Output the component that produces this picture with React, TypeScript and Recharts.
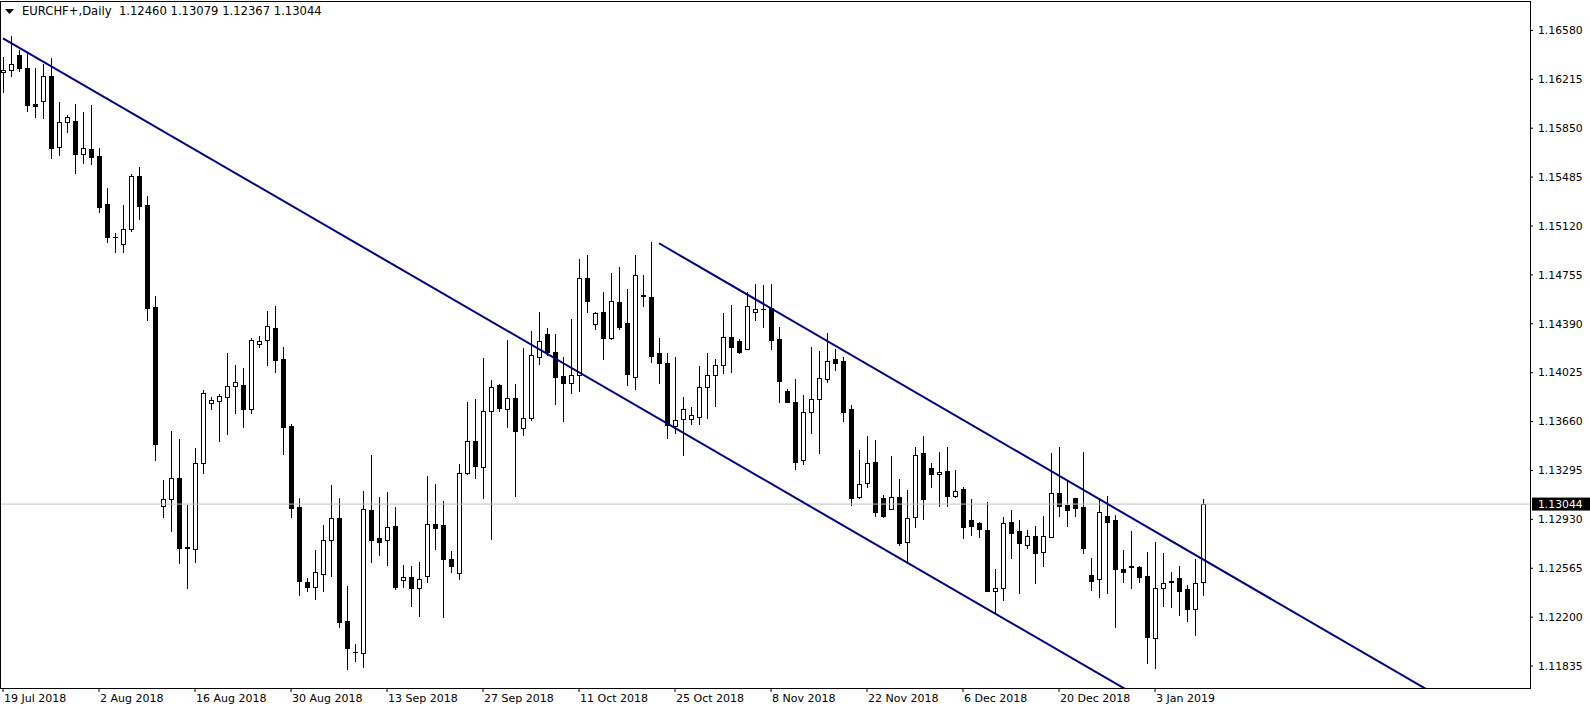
import { ComposedChart, Bar, XAxis, YAxis, ReferenceLine } from 'recharts';

// EURCHF+ daily candles, one entry per bar (6 bars per week on this feed)
const opens = [
  1.16267, 1.16282, 1.16396, 1.16302, 1.16033, 1.16051, 1.16240, 1.15712, 1.15894, 1.15904,
  1.15660, 1.15695, 1.15642, 1.15284, 1.15040, 1.14983, 1.15095, 1.15493, 1.15277, 1.14515,
  1.13027, 1.13084, 1.13236, 1.12721, 1.12706, 1.13353, 1.13796, 1.13816, 1.13846, 1.13928,
  1.13933, 1.13752, 1.14237, 1.14267, 1.14356, 1.14127, 1.13627, 1.13020, 1.12462, 1.12423,
  1.12524, 1.12774, 1.12940, 1.12169, 1.11942, 1.11930, 1.13000, 1.12791, 1.12774, 1.12880,
  1.12475, 1.12497, 1.12415, 1.12507, 1.12895, 1.12886, 1.12634, 1.12532, 1.13278, 1.13515,
  1.13323, 1.13739, 1.13933, 1.13756, 1.13834, 1.13610, 1.13684, 1.14144, 1.14311, 1.14177,
  1.14000, 1.13946, 1.14005, 1.14729, 1.14386, 1.14478, 1.14282, 1.14553, 1.14396, 1.13995,
  1.14602, 1.14592, 1.14170, 1.14095, 1.13629, 1.13677, 1.13681, 1.13696, 1.13916, 1.14005,
  1.14080, 1.14289, 1.14261, 1.14199, 1.14480, 1.14502, 1.14505, 1.14274, 1.13888, 1.13804,
  1.13371, 1.13729, 1.13826, 1.13975, 1.14125, 1.14112, 1.13754, 1.13095, 1.13199, 1.13356,
  1.13087, 1.13007, 1.13095, 1.12759, 1.12945, 1.13423, 1.13311, 1.13266, 1.13291, 1.13102,
  1.13154, 1.12925, 1.12900, 1.12850, 1.12397, 1.12415, 1.12908, 1.12843, 1.12736, 1.12806,
  1.12683, 1.12796, 1.13124, 1.13037, 1.13087, 1.13020, 1.12515, 1.12482, 1.12955, 1.12925,
  1.12557, 1.12578, 1.12574, 1.12507, 1.12046, 1.12415, 1.12468, 1.12490, 1.12408, 1.12263,
  1.12460,
];
const highs = [
  1.16384, 1.16540, 1.16434, 1.16409, 1.16302, 1.16327, 1.16372, 1.16045, 1.15948, 1.16031,
  1.15969, 1.16023, 1.15700, 1.15401, 1.15068, 1.15277, 1.15508, 1.15563, 1.15344, 1.14600,
  1.13224, 1.13590, 1.13530, 1.13037, 1.13460, 1.13896, 1.13841, 1.13866, 1.14174, 1.14082,
  1.14058, 1.14282, 1.14299, 1.14485, 1.14523, 1.14214, 1.13642, 1.13087, 1.12490, 1.12701,
  1.12888, 1.13186, 1.13089, 1.12432, 1.11999, 1.13142, 1.13410, 1.13097, 1.13134, 1.13020,
  1.12589, 1.12582, 1.12609, 1.13254, 1.13194, 1.13067, 1.12694, 1.13341, 1.13808, 1.13828,
  1.14137, 1.13970, 1.13940, 1.14269, 1.13940, 1.14207, 1.14336, 1.14480, 1.14358, 1.14314,
  1.14142, 1.14426, 1.14873, 1.14903, 1.14478, 1.14627, 1.14771, 1.14814, 1.14647, 1.14903,
  1.14754, 1.14998, 1.14282, 1.14170, 1.14140, 1.13846, 1.13771, 1.14075, 1.14172, 1.14129,
  1.14473, 1.14530, 1.14274, 1.14625, 1.14685, 1.14679, 1.14687, 1.14366, 1.13903, 1.13978,
  1.13858, 1.14217, 1.14187, 1.14319, 1.14199, 1.14144, 1.13784, 1.13448, 1.13552, 1.13522,
  1.13112, 1.13405, 1.13229, 1.13149, 1.13468, 1.13552, 1.13348, 1.13435, 1.13468, 1.13298,
  1.13169, 1.13082, 1.12908, 1.13062, 1.12559, 1.12950, 1.13000, 1.12925, 1.12850, 1.12880,
  1.12953, 1.13428, 1.13472, 1.13219, 1.13087, 1.13433, 1.12639, 1.13074, 1.13104, 1.12962,
  1.12701, 1.12843, 1.12582, 1.12689, 1.12761, 1.12681, 1.12539, 1.12584, 1.12440, 1.12636,
  1.13079,
];
const lows = [
  1.16122, 1.16242, 1.16279, 1.15981, 1.15936, 1.15928, 1.15630, 1.15650, 1.15824, 1.15518,
  1.15592, 1.15585, 1.15227, 1.14998, 1.14928, 1.14928, 1.15082, 1.15172, 1.14418, 1.13373,
  1.12950, 1.12845, 1.12602, 1.12415, 1.12614, 1.13278, 1.13752, 1.13517, 1.13567, 1.13726,
  1.13622, 1.13726, 1.14219, 1.14084, 1.14032, 1.13420, 1.12950, 1.12367, 1.12397, 1.12338,
  1.12397, 1.12509, 1.12129, 1.11811, 1.11875, 1.11830, 1.12614, 1.12666, 1.12589, 1.12408,
  1.12423, 1.12285, 1.12206, 1.12465, 1.12706, 1.12199, 1.12539, 1.12482, 1.13269, 1.13241,
  1.13092, 1.12783, 1.13741, 1.13622, 1.13107, 1.13560, 1.13672, 1.14090, 1.14157, 1.13793,
  1.13666, 1.13875, 1.13890, 1.14476, 1.14353, 1.14129, 1.14274, 1.14353, 1.13933, 1.13901,
  1.14525, 1.14107, 1.13950, 1.13535, 1.13572, 1.13410, 1.13642, 1.13642, 1.13689, 1.13778,
  1.14020, 1.14032, 1.14174, 1.14199, 1.14418, 1.14364, 1.14199, 1.13808, 1.13804, 1.13304,
  1.13341, 1.13572, 1.13423, 1.13953, 1.14045, 1.13666, 1.13037, 1.13087, 1.13174, 1.12955,
  1.12950, 1.13005, 1.12739, 1.12604, 1.12875, 1.12935, 1.13169, 1.13030, 1.13032, 1.13099,
  1.12788, 1.12813, 1.12796, 1.12397, 1.12229, 1.12328, 1.12639, 1.12382, 1.12714, 1.12457,
  1.12584, 1.12796, 1.12955, 1.12880, 1.12955, 1.12681, 1.12403, 1.12353, 1.12382, 1.12124,
  1.12460, 1.12420, 1.12465, 1.11860, 1.11818, 1.12283, 1.12278, 1.12216, 1.12171, 1.12067,
  1.12367,
];
const closes = [
  1.16284, 1.16327, 1.16297, 1.16023, 1.16013, 1.16237, 1.15704, 1.15894, 1.15934, 1.15660,
  1.15700, 1.15637, 1.15264, 1.15040, 1.15034, 1.15095, 1.15493, 1.15271, 1.14510, 1.13492,
  1.13082, 1.13236, 1.12718, 1.12716, 1.13348, 1.13871, 1.13821, 1.13851, 1.13925, 1.13953,
  1.13756, 1.14269, 1.14259, 1.14371, 1.14122, 1.13622, 1.13017, 1.12472, 1.12427, 1.12535,
  1.12774, 1.12938, 1.12166, 1.11972, 1.11938, 1.13005, 1.12778, 1.12763, 1.12871, 1.12427,
  1.12497, 1.12415, 1.12482, 1.12893, 1.12868, 1.12632, 1.12584, 1.13278, 1.13515, 1.13330,
  1.13739, 1.13916, 1.13763, 1.13834, 1.13592, 1.13684, 1.14157, 1.14259, 1.14182, 1.13995,
  1.13946, 1.14005, 1.14729, 1.14562, 1.14468, 1.14286, 1.14560, 1.14368, 1.14015, 1.14754,
  1.14598, 1.14149, 1.14099, 1.13634, 1.13669, 1.13752, 1.13707, 1.13916, 1.14008, 1.14080,
  1.14289, 1.14219, 1.14182, 1.14520, 1.14498, 1.14498, 1.14269, 1.13965, 1.13804, 1.13360,
  1.13729, 1.13826, 1.13983, 1.14112, 1.14095, 1.13734, 1.13087, 1.13194, 1.13348, 1.12983,
  1.12955, 1.13095, 1.12751, 1.12938, 1.13410, 1.13080, 1.13266, 1.13281, 1.13102, 1.13142,
  1.12875, 1.12883, 1.12856, 1.12397, 1.12415, 1.12900, 1.12826, 1.12751, 1.12806, 1.12677,
  1.12806, 1.13124, 1.13032, 1.13000, 1.13017, 1.12718, 1.12472, 1.12983, 1.12912, 1.12559,
  1.12539, 1.12572, 1.12502, 1.12054, 1.12415, 1.12453, 1.12464, 1.12397, 1.12263, 1.12457,
  1.13044,
];

const dateLabels = [
  '19 Jul 2018', '2 Aug 2018', '16 Aug 2018', '30 Aug 2018', '13 Sep 2018', '27 Sep 2018',
  '11 Oct 2018', '25 Oct 2018', '8 Nov 2018', '22 Nov 2018', '6 Dec 2018', '20 Dec 2018', '3 Jan 2019',
];
const labelBars = [0, 12, 24, 36, 48, 60, 72, 84, 96, 108, 120, 132, 144];
const priceTicks = [
  1.11835, 1.122, 1.12565, 1.1293, 1.13295, 1.1366, 1.14025,
  1.1439, 1.14755, 1.1512, 1.15485, 1.1585, 1.16215, 1.1658,
];
const lastPrice = 1.13044;
const lowerChannel = [{ bar: 0, price: 1.1652 }, { bar: 145, price: 1.115 }];
const upperChannel = [{ bar: 82, price: 1.14991 }, { bar: 180, price: 1.1159 }];

const rows = opens.map((o, i) => ({
  bar: i, open: o, high: highs[i], low: lows[i], close: closes[i], range: [lows[i], highs[i]],
}));

const FONT = 'DejaVu Sans';
const NAVY = '#000080';

function Candle(props: any) {
  const { x, y, width, height, payload } = props;
  const { open, high, low, close } = payload;
  const cx = Math.round(x + width / 2);
  const span = high - low;
  const toY = (v: number) => (span > 0 ? y + ((high - v) / span) * height : y);
  const top = Math.round(toY(Math.max(open, close)));
  const bot = Math.round(toY(Math.min(open, close)));
  const up = close >= open;
  return (
    <g>
      <line x1={cx + 0.5} x2={cx + 0.5} y1={Math.round(y)} y2={Math.round(y + height) + 1} stroke="#000" />
      {bot - top < 1 ? (
        <line x1={cx - 2} x2={cx + 3} y1={top + 0.5} y2={top + 0.5} stroke="#000" />
      ) : (
        <rect x={cx - 1.5} y={top + 0.5} width={4} height={bot - top} fill={up ? '#fff' : '#000'} stroke="#000" />
      )}
    </g>
  );
}

function DateTick(props: any) {
  const { x, y, payload } = props;
  const label = dateLabels[labelBars.indexOf(payload.value)];
  return (
    <text x={x + 1} y={y + 10} fill="#000" fontSize={11} fontFamily={FONT} textAnchor="start">
      {label}
    </text>
  );
}

function PriceTag(props: any) {
  const { viewBox } = props;
  const right = viewBox.x + viewBox.width;
  return (
    <g>
      <rect x={right + 2} y={viewBox.y - 6.5} width={60} height={13} fill="#000" />
      <text x={right + 8} y={viewBox.y} dy="0.355em" fill="#fff" fontSize={10.8} fontFamily={FONT}>
        {lastPrice.toFixed(5)}
      </text>
    </g>
  );
}

export default function App() {
  return (
    <div style={{ position: 'relative', width: 1590, height: 710, background: '#fff' }}>
      <style>{'body{margin:0}'}</style>
      <ComposedChart width={1590} height={710} data={rows} margin={{ top: 2, right: 0, bottom: 0, left: 1 }}>
        <XAxis
          dataKey="bar"
          type="number"
          domain={[-0.25, 190.875]}
          allowDataOverflow
          ticks={labelBars}
          interval={0}
          height={22}
          axisLine={false}
          tickLine={{ stroke: '#000' }}
          tickSize={4}
          tickMargin={0}
          tick={<DateTick />}
        />
        <YAxis
          orientation="right"
          width={60}
          domain={[1.11671, 1.16792]}
          allowDataOverflow
          ticks={priceTicks}
          interval={0}
          axisLine={false}
          tickLine={{ stroke: '#000' }}
          tickSize={3}
          tickMargin={5}
          tickFormatter={(v: number) => v.toFixed(5)}
          tick={{ fill: '#000', fontSize: 10.8, fontFamily: FONT }}
        />
        <ReferenceLine y={lastPrice} stroke="#c0c0c0" strokeWidth={1} label={<PriceTag />} />
        <Bar dataKey="range" barSize={6} isAnimationActive={false} shape={<Candle />} />
        <ReferenceLine
          segment={lowerChannel.map((p) => ({ x: p.bar, y: p.price }))}
          stroke={NAVY}
          strokeWidth={2}
          ifOverflow="hidden"
        />
        <ReferenceLine
          segment={upperChannel.map((p) => ({ x: p.bar, y: p.price }))}
          stroke={NAVY}
          strokeWidth={2}
          ifOverflow="hidden"
        />
      </ComposedChart>
      <div
        style={{
          position: 'absolute', left: 0, top: 1, width: 1531, height: 688,
          border: '1px solid #000', boxSizing: 'border-box', pointerEvents: 'none',
        }}
      />
      <div
        style={{
          position: 'absolute', left: 5, top: 4, display: 'flex', alignItems: 'center',
          fontFamily: FONT, fontSize: 11.6, color: '#000', whiteSpace: 'pre', lineHeight: '15px',
        }}
      >
        <svg width={9} height={6} style={{ marginRight: 8 }}>
          <polygon points="0,0 9,0 4.5,5" fill="#000" />
        </svg>
        <span>{'EURCHF+,Daily  1.12460 1.13079 1.12367 1.13044'}</span>
      </div>
    </div>
  );
}
